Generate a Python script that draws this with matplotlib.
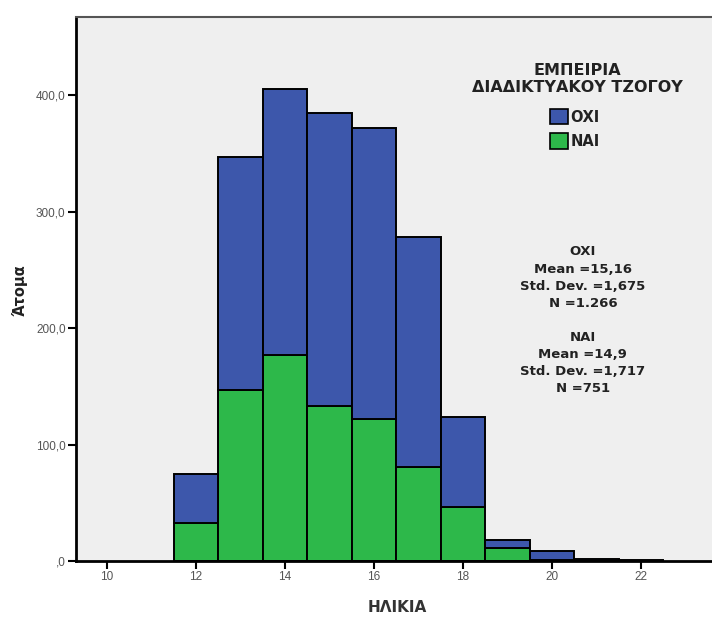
import matplotlib.pyplot as plt
from matplotlib.patches import Patch

plt.rcParams['font.family'] = ['Liberation Sans', 'DejaVu Sans']

# age bins (centres) and counts per group
ages = [12, 13, 14, 15, 16, 17, 18, 19, 20, 21, 22]
nai = [33, 147, 177, 133, 122, 81, 46, 11, 1, 0, 0]
oxi = [42, 200, 228, 252, 250, 197, 78, 7, 8, 2, 1]

xticks = [10, 12, 14, 16, 18, 20, 22]
yticks = [0, 100, 200, 300, 400]
ytick_labels = [',0', '100,0', '200,0', '300,0', '400,0']

legend_title = 'ΕΜΠΕΙΡΙΑ\nΔΙΑΔΙΚΤΥΑΚΟΥ ΤΖΟΓΟΥ'
stats_text = ('ΟΧΙ\nMean =15,16\nStd. Dev. =1,675\nN =1.266\n\n'
              'ΝΑΙ\nMean =14,9\nStd. Dev. =1,717\nN =751')

blue = '#3d57ab'
green = '#2db84a'
bold = {'family': 'DejaVu Sans', 'weight': 'bold'}

fig = plt.figure(figsize=(7.12, 6.17), dpi=100)
ax = fig.add_axes([76/712, 56/617, 1 - 76/712, 544/617])
ax.set_facecolor('#efefef')

ax.bar(ages, nai, width=1, color=green, edgecolor='black', linewidth=1.4)
ax.bar(ages, oxi, width=1, bottom=nai, color=blue, edgecolor='black', linewidth=1.4)

ax.set_xlim(9.3, 23.6)
ax.set_ylim(0, 467)
ax.set_xticks(xticks)
ax.set_xticklabels([str(t) for t in xticks])
ax.set_yticks(yticks)
ax.set_yticklabels(ytick_labels)
ax.tick_params(labelsize=8.5, labelcolor='#555555', length=6, width=1.5,
               direction='out', pad=1.5)

for s in ['left', 'bottom']:
    ax.spines[s].set_linewidth(2)
ax.spines['top'].set_color('#555555')
ax.spines['top'].set_linewidth(1.5)
ax.spines['right'].set_visible(False)

fig.text(20/712, 1 - 290/617, 'Άτομα', rotation=90, ha='center', va='center',
         fontsize=10.5, color='#222222', **bold)
fig.text(397/712, 1 - 608/617, 'ΗΛΙΚΙΑ', ha='center', va='center',
         fontsize=11, color='#333333', **bold)

ax.text(0.788, 0.886, legend_title, transform=ax.transAxes, ha='center',
        va='center', fontsize=11.5, linespacing=1.1, color='#222222', **bold)

handles = [Patch(facecolor=blue, edgecolor='black', linewidth=1.2, label='ΟΧΙ'),
           Patch(facecolor=green, edgecolor='black', linewidth=1.2, label='ΝΑΙ')]
leg = ax.legend(handles=handles, loc='upper left', bbox_to_anchor=(0.745, 0.831),
                frameon=False, borderpad=0, borderaxespad=0,
                handlelength=1.25, handleheight=1.25, handletextpad=0.15,
                labelspacing=0.6, prop={**bold, 'size': 10.5})
for t in leg.get_texts():
    t.set_color('#222222')

ax.text(0.797, 0.580, stats_text, transform=ax.transAxes, ha='center', va='top',
        fontsize=9.5, linespacing=1.41, color='#222222', **bold)

fig.savefig('out.png', dpi=100)
